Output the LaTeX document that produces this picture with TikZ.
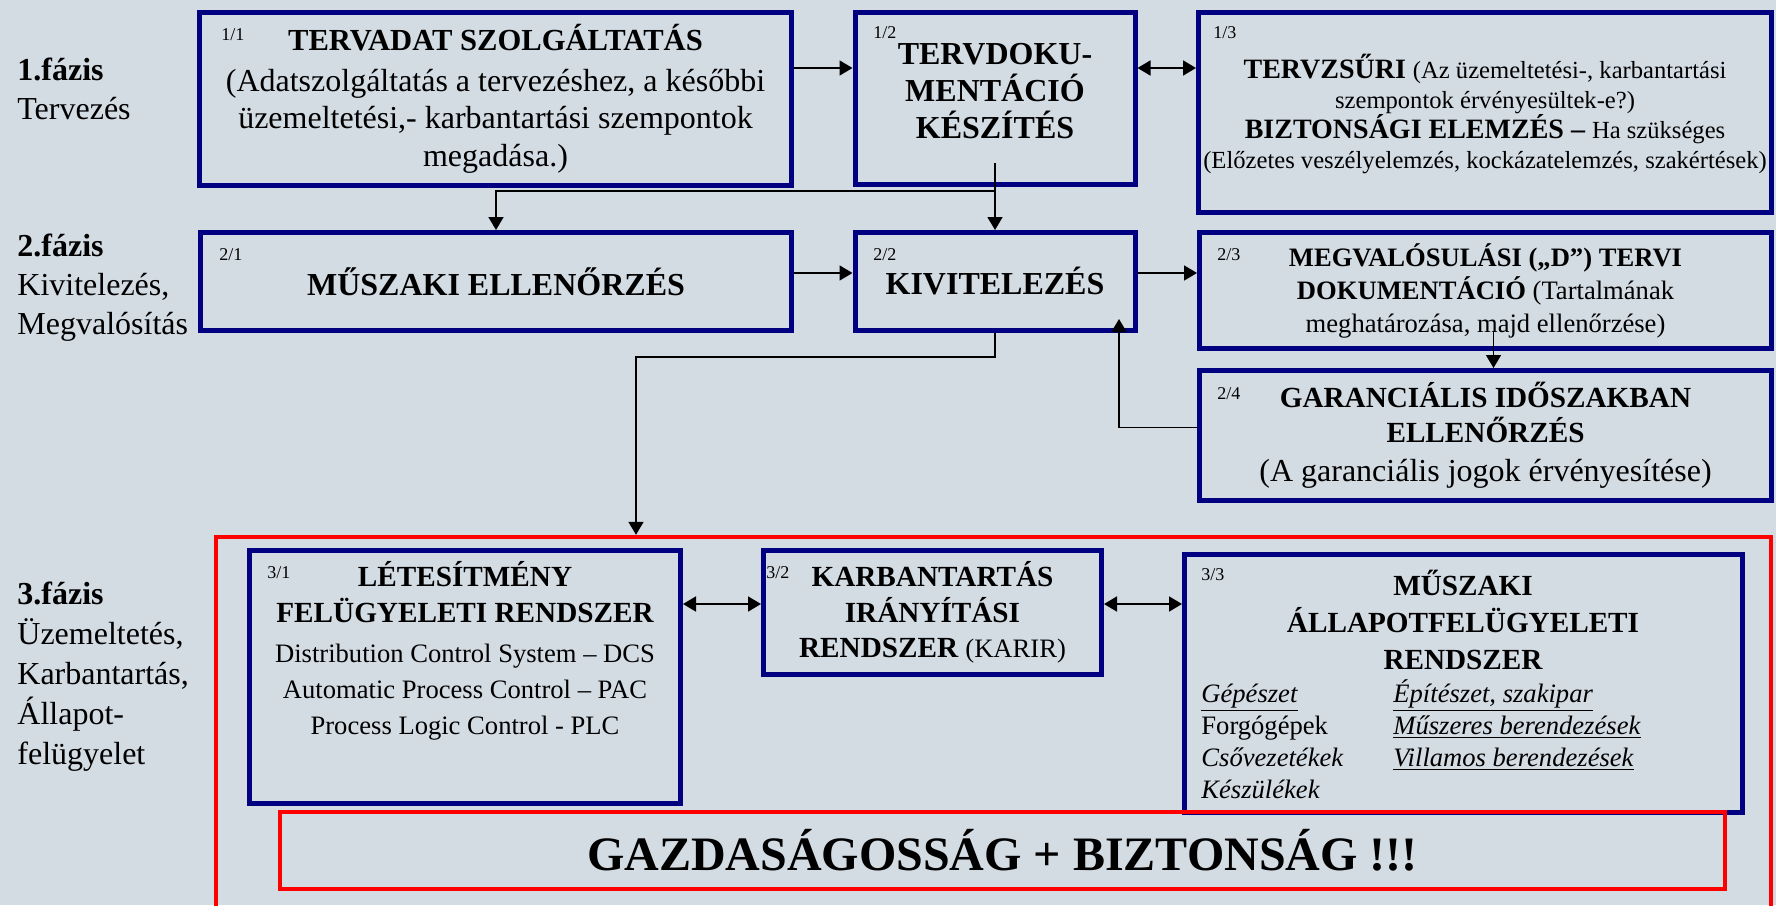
\documentclass[tikz,border=0pt]{standalone}
\usepackage{fontspec}
\setmainfont{Liberation Serif}
\usetikzlibrary{arrows.meta, calc, positioning}

\definecolor{bgblue}{RGB}{211,219,227}
\definecolor{navyline}{RGB}{0,0,128}
\definecolor{redline}{RGB}{255,0,0}
\newcommand{\fsz}[1]{\fontsize{#1pt}{#1pt}\selectfont}

\begin{document}
\begin{tikzpicture}[x=0.5pt, y=-0.5pt,
		box/.style={draw=navyline, line width=2.5pt, inner sep=0pt, align=center},
		redbox/.style={draw=redline, line width=2.2pt, inner sep=0pt, align=center},
		txt/.style={inner sep=0pt, align=center},
		num/.style={anchor=west, inner sep=0pt, font=\fontsize{9pt}{10pt}\selectfont},
		phase/.style={anchor=west, inner sep=0pt, align=left, font=\fontsize{16pt}{19.5pt}\selectfont},
		arr/.style={-{Triangle[length=6.5pt, width=7.5pt]}, line width=0.8pt},
		dblarr/.style={{Triangle[length=6.5pt, width=7.5pt]}-{Triangle[length=6.5pt, width=7.5pt]}, line width=0.9pt}]
		\useasboundingbox (0,0) rectangle (1776,905);
		\fill[bgblue] (0,0) rectangle (1776,905);
		
		% fazisok
		\node[phase] (p1) at (17,89) {\textbf{1.fázis}\\Tervezés};
		\node[phase] (p2) at (17,288) {\textbf{2.fázis}\\Kivitelezés,\\Megvalósítás};
		\node[phase, font=\fontsize{16pt}{20pt}\selectfont] (p3) at (17,677) {\textbf{3.fázis}\\Üzemeltetés,\\Karbantartás,\\Állapot-\\felügyelet};
		
		% 1. fazis
		\node[box, minimum width=296pt, minimum height=86.5pt, font=\fontsize{16pt}{18.8pt}\selectfont] (b11) at (495.5,99) {{\bfseries\fsz{15.3}TERVADAT SZOLGÁLTATÁS}\\[1.5pt](Adatszolgáltatás a tervezéshez, a későbbi\\üzemeltetési,- karbantartási szempontok\\megadása.)};
		\node[box, minimum width=140pt, minimum height=86pt] (b12) at (995,98.5) {};
		\node[txt, font=\bfseries\fontsize{16pt}{18.7pt}\selectfont] (t12) at (995,91) {TERVDOKU-\\MENTÁCIÓ\\KÉSZÍTÉS};
		\node[box, minimum width=286.5pt, minimum height=100pt] (b13) at (1485,112.5) {};
		\node[txt, font=\fontsize{14pt}{15pt}\selectfont] (t13) at (1485,114) {{\bfseries TERVZSŰRI} {\fsz{12.3}(Az üzemeltetési-, karbantartási}\\{\fsz{12.3}szempontok érvényesültek-e?)}\\{\bfseries BIZTONSÁGI ELEMZÉS –} {\fsz{12.3}Ha szükséges}\\{\fsz{12.3}(Előzetes veszélyelemzés, kockázatelemzés, szakértések)}};
		
		% 2. fazis
		\node[box, minimum width=295.5pt, minimum height=49pt, font=\bfseries\fontsize{16pt}{18pt}\selectfont] (b21) at (496,281.5) {MŰSZAKI ELLENŐRZÉS};
		\node[box, minimum width=140pt, minimum height=49pt, font=\bfseries\fontsize{16pt}{18pt}\selectfont] (b22) at (995,281.5) {KIVITELEZÉS};
		\node[box, minimum width=286pt, minimum height=58pt, font=\fontsize{13.3pt}{16.5pt}\selectfont] (b23) at (1485.5,290.5) {{\bfseries MEGVALÓSULÁSI („D”) TERVI}\\{\bfseries DOKUMENTÁCIÓ} (Tartalmának\\meghatározása, majd ellenőrzése)};
		\node[box, minimum width=286pt, minimum height=65pt, font=\fontsize{16pt}{17.5pt}\selectfont] (b24) at (1485.5,435.5) {{\bfseries\fsz{14.6}GARANCIÁLIS IDŐSZAKBAN}\\{\bfseries\fsz{14.6}ELLENŐRZÉS}\\[2pt](A garanciális jogok érvényesítése)};
		
		% 3. fazis
		\node[redbox, minimum width=777.5pt, minimum height=190pt] (f3) at (993.5,727) {};
		\node[box, minimum width=215.5pt, minimum height=126.5pt] (b31) at (465,677) {};
		\node[txt, font=\fontsize{13.3pt}{18pt}\selectfont] (t31) at (465,651) {{\bfseries\fsz{14.6}LÉTESÍTMÉNY}\\{\bfseries\fsz{14.6}FELÜGYELETI RENDSZER}\\[2pt]Distribution Control System – DCS\\Automatic Process Control – PAC\\Process Logic Control - PLC};
		\node[box, minimum width=169pt, minimum height=62pt, font=\bfseries\fontsize{14.6pt}{17.8pt}\selectfont] (b32) at (932.5,612.5) {KARBANTARTÁS\\IRÁNYÍTÁSI\\RENDSZER {\mdseries\fsz{13.3}(KARIR)}};
		\node[box, minimum width=279pt, minimum height=129pt] (b33) at (1463.5,683.5) {};
		\node[txt, font=\bfseries\fontsize{14.6pt}{18.5pt}\selectfont] (t33) at (1463,620) {MŰSZAKI\\ÁLLAPOTFELÜGYELETI\\RENDSZER};
		\node[anchor=base west, inner sep=0pt, font=\fontsize{13.3pt}{16pt}\selectfont] (i33) at (1201,702) {\begin{tabular}[t]{@{}p{96pt}@{}l@{}}
				\underline{\textit{Gépészet}} & \underline{\textit{Építészet, szakipar}}\\
				Forgógépek & \underline{\textit{Műszeres berendezések}}\\
				\textit{Csővezetékek} & \underline{\textit{Villamos berendezések}}\\
				\textit{Készülékek} & \\
			\end{tabular}};
		\node[redbox, minimum width=722.5pt, minimum height=38.5pt, font=\bfseries\fontsize{24pt}{26pt}\selectfont] (goal) at (1002.5,850.5) {GAZDASÁGOSSÁG + BIZTONSÁG !!!};
		
		% sorszamok
		\node[num] (n11) at (221,35) {1/1};
		\node[num] (n12) at (873,33) {1/2};
		\node[num] (n13) at (1213,33) {1/3};
		\node[num] (n21) at (219,255) {2/1};
		\node[num] (n22) at (873,255) {2/2};
		\node[num] (n23) at (1217,255) {2/3};
		\node[num] (n24) at (1217,394) {2/4};
		\node[num] (n31) at (267,573) {3/1};
		\node[num] (n32) at (766,573) {3/2};
		\node[num] (n33) at (1201,575) {3/3};
		
		% nyilak
		\coordinate (r1) at (0,68);
		\coordinate (r2) at (0,273);
		\coordinate (r3) at (0,604);
		\coordinate (j2) at (636,357);
		\draw[arr] (b11.east |- r1) -- (b12.west |- r1);
		\draw[dblarr] (b12.east |- r1) -- (b13.west |- r1);
		\draw[arr] ([yshift=12pt]b12.south) -- (b22.north);
		\draw[arr] ([yshift=-2pt]b12.south) -| (b21.north);
		\draw[arr] (b21.east |- r2) -- (b22.west |- r2);
		\draw[arr] (b22.east |- r2) -- (b23.west |- r2);
		\draw[arr] ([shift={(4pt,10pt)}]b23.south) -- ([xshift=4pt]b24.north);
		\draw[arr] ([yshift=4pt]b24.west) -| ([shift={(62pt,7pt)}]b22.south);
		\draw[arr] (b22.south) |- (j2) -- (j2 |- f3.north);
		\draw[dblarr] (b31.east |- r3) -- (b32.west |- r3);
		\draw[dblarr] (b32.east |- r3) -- (b33.west |- r3);
		
	\end{tikzpicture}
\end{document}
